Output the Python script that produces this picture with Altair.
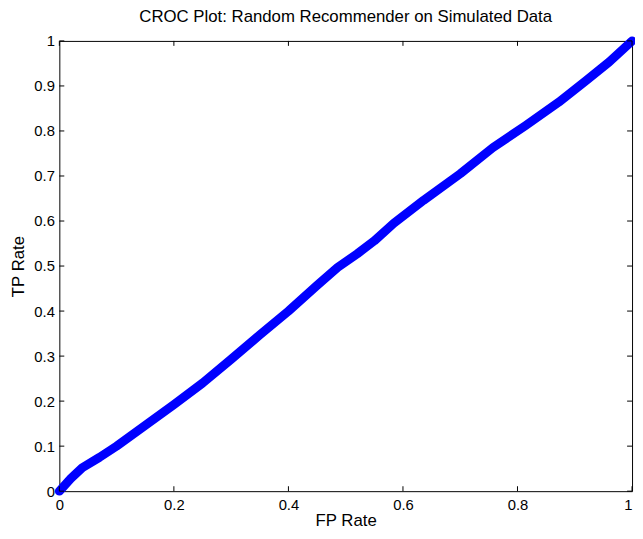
import altair as alt
import pandas as pd

fp_rate = [0.0, 0.02, 0.04, 0.07, 0.1, 0.15, 0.2, 0.25, 0.3, 0.35, 0.4, 0.45,
           0.486, 0.52, 0.55, 0.584, 0.636, 0.7, 0.757, 0.814, 0.872, 0.92, 0.96, 1.0]
tp_rate = [0.0, 0.028, 0.052, 0.075, 0.1, 0.146, 0.192, 0.24, 0.293, 0.347, 0.4, 0.457,
           0.497, 0.527, 0.556, 0.595, 0.646, 0.705, 0.763, 0.812, 0.864, 0.912, 0.953, 1.0]
tick_values = [0, 0.2, 0.4, 0.6, 0.8, 1]
ytick_values = [0, 0.1, 0.2, 0.3, 0.4, 0.5, 0.6, 0.7, 0.8, 0.9, 1]

W, H = 580, 456
FONT = "Liberation Sans"

df = pd.DataFrame({"fp": fp_rate, "tp": tp_rate})
xt = pd.DataFrame({"v": tick_values})
yt = pd.DataFrame({"v": ytick_values})

xs = alt.Scale(domain=[0, 1], nice=False, zero=False)
ys = alt.Scale(domain=[0, 1], nice=False, zero=False)

line = alt.Chart(df).mark_line(color="#0000ff", strokeWidth=9, strokeCap="round", strokeJoin="round").encode(
    x=alt.X("fp:Q", scale=xs, title="FP Rate",
            axis=alt.Axis(values=tick_values, ticks=False, domain=False, grid=False, format="~g",
                          labelPadding=7, labelFontSize=15, labelColor="black", labelFont=FONT,
                          labelAlign=alt.expr("datum.value == 1 ? 'right' : 'center'"),
                          titleFontSize=17, titleFontWeight="normal", titleColor="black",
                          titleFont=FONT, titlePadding=0, labelFlush=False)),
    y=alt.Y("tp:Q", scale=ys, title="TP Rate",
            axis=alt.Axis(values=ytick_values, ticks=False, domain=False, grid=False, format="~g",
                          labelPadding=5, labelFontSize=15, labelColor="black", labelFont=FONT,
                          titleFontSize=17, titleFontWeight="normal", titleColor="black",
                          titleFont=FONT, titlePadding=6, labelFlush=False)),
)

tk = dict(color="black", strokeWidth=1)
bottom = alt.Chart(xt).mark_rule(**tk).encode(x=alt.X("v:Q", scale=xs), y=alt.value(H), y2=alt.value(H - 5))
top = alt.Chart(xt).mark_rule(**tk).encode(x=alt.X("v:Q", scale=xs), y=alt.value(0), y2=alt.value(5))
left = alt.Chart(yt).mark_rule(**tk).encode(y=alt.Y("v:Q", scale=ys), x=alt.value(0), x2=alt.value(5))
right = alt.Chart(yt).mark_rule(**tk).encode(y=alt.Y("v:Q", scale=ys), x=alt.value(W), x2=alt.value(W - 5))

chart = alt.layer(line, bottom, top, left, right).properties(
    width=W, height=H,
    title=alt.Title("CROC Plot: Random Recommender on Simulated Data", fontSize=17,
                    fontWeight="normal", font=FONT, color="black", offset=8),
    autosize=alt.AutoSizeParams(type="none"),
    padding={"left": 52, "top": 30, "right": 3, "bottom": 37},
).configure(background="white", view=alt.ViewConfig(stroke="black", strokeWidth=1))

chart.save("out.html", embed_options={"renderer": "svg", "actions": False})
